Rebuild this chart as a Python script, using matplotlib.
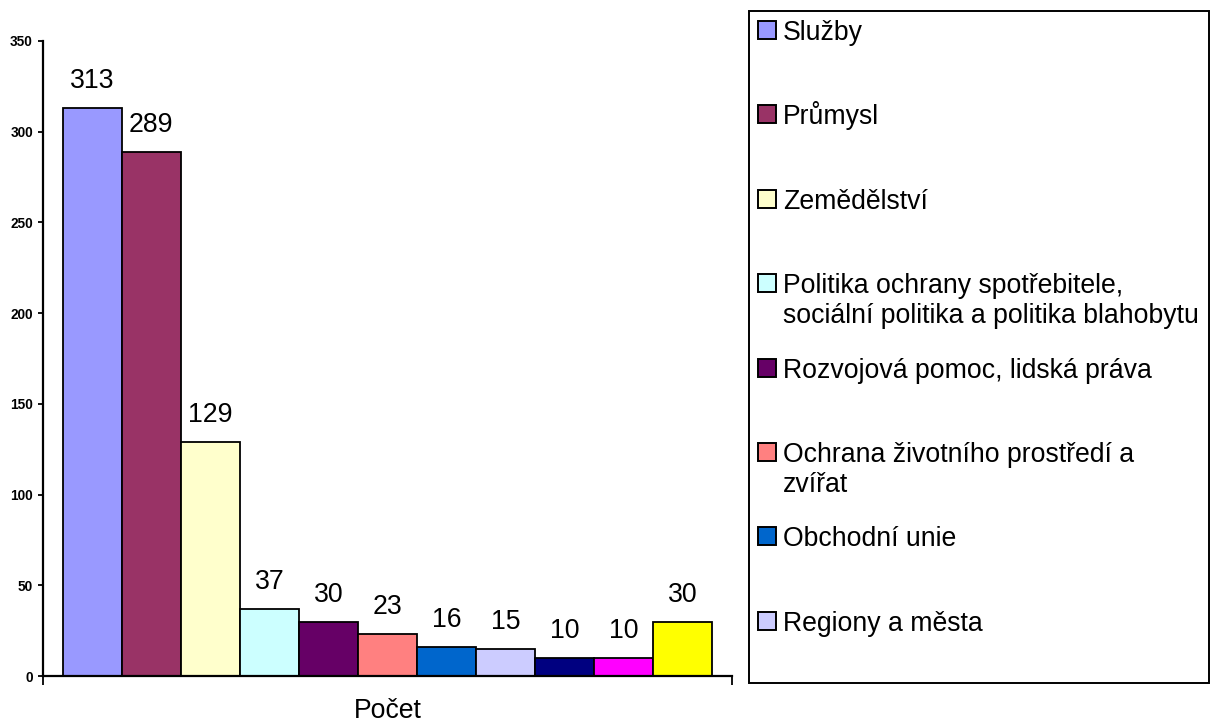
import matplotlib
matplotlib.use("Agg")
import matplotlib.pyplot as plt
from matplotlib.patches import Rectangle

plt.rcParams['font.family'] = ['Liberation Sans', 'DejaVu Sans']

# Data
categories = ["Počet"]
series_names = [
    "Služby",
    "Průmysl",
    "Zemědělství",
    "Politika ochrany spotřebitele,\nsociální politika a politika blahobytu",
    "Rozvojová pomoc, lidská práva",
    "Ochrana životního prostředí a\nzvířat",
    "Obchodní unie",
    "Regiony a města",
    None,
    None,
    None,
]
series_values = [313, 289, 129, 37, 30, 23, 16, 15, 10, 10, 30]
series_colors = ["#9999FF", "#993366", "#FFFFCC", "#CCFFFF", "#660066", "#FF8080",
                 "#0066CC", "#CCCCFF", "#000080", "#FF00FF", "#FFFF00"]
y_ticks = [0, 50, 100, 150, 200, 250, 300, 350]

W, H, DPI = 1210, 725, 100
FS = 19.2
fig = plt.figure(figsize=(W / DPI, H / DPI), dpi=DPI)
ax = fig.add_axes([43 / W, 1 - 676 / H, (732 - 43) / W, (676 - 41) / H])

n = len(series_values)
group_width = 0.943
bw = group_width / n
for i, (val, col) in enumerate(zip(series_values, series_colors)):
    x = -group_width / 2 + bw * (i + 0.5)
    b = ax.bar(x, val, width=bw, color=col, edgecolor="black", linewidth=1.3, zorder=2)
    ax.bar_label(b, labels=[str(val)], padding=10, fontsize=FS)

ax.set_xlim(-0.5, 0.5)
ax.set_ylim(0, 350)
ax.set_yticks(y_ticks)
ax.set_yticklabels([str(t) for t in y_ticks], fontsize=9.8, fontweight="bold")
ax.tick_params(axis="y", direction="out", length=3.3, width=1.3, pad=4.0)

ax.set_xticks([0])
ax.set_xticklabels(categories, fontsize=FS)
ax.tick_params(axis="x", which="major", length=0, pad=16)
ax.set_xticks([-0.5, 0.5], minor=True)
ax.tick_params(axis="x", which="minor", direction="out", length=6.5, width=1.3)

for s in ["top", "right"]:
    ax.spines[s].set_visible(False)
for s in ["left", "bottom"]:
    ax.spines[s].set_linewidth(1.6)

# Legend box with evenly spaced entries
def fx(px):
    return px / W

def fy(py):
    return 1 - py / H

frame = Rectangle((fx(749), fy(683)), fx(1209) - fx(749), fy(11) - fy(683),
                  transform=fig.transFigure, fill=False, edgecolor="black",
                  linewidth=1.4)
fig.add_artist(frame)

slot = 84.4
first_center = 30
line_step = 30
for i, name in enumerate(series_names):
    if name is None:
        continue
    yc = first_center + i * slot
    sq = Rectangle((fx(758), fy(yc + 9)), fx(18), 18 / H,
                   transform=fig.transFigure, facecolor=series_colors[i],
                   edgecolor="black", linewidth=1.4)
    fig.add_artist(sq)
    for k, line in enumerate(name.split("\n")):
        fig.text(fx(783), fy(yc + 10 + k * line_step), line, fontsize=FS,
                 va="baseline", ha="left")

fig.savefig("out.png", dpi=DPI)
